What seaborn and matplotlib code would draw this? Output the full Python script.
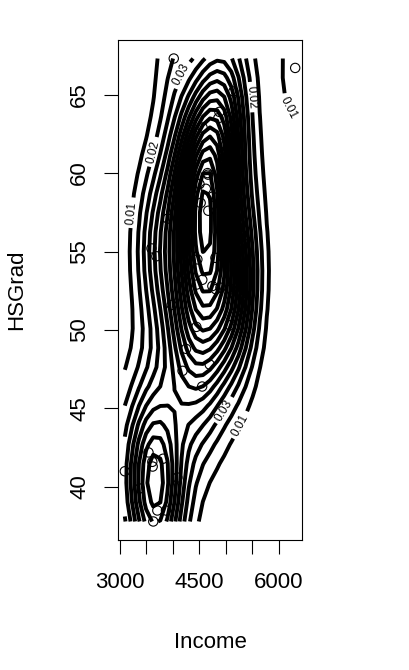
import numpy as np
import pandas as pd
import matplotlib
matplotlib.use("Agg")
import matplotlib.pyplot as plt
import seaborn as sns

# state.x77: Income and HS Grad for the 50 states
income = [3624, 6315, 4530, 3378, 5114, 4884, 5348, 4809, 4815, 4091,
          4963, 4119, 5107, 4458, 4628, 4669, 3712, 3545, 3694, 5299,
          4755, 4751, 4675, 3098, 4254, 4347, 4508, 5149, 4281, 5237,
          3601, 4903, 3875, 5087, 4561, 3983, 4660, 4449, 4558, 3635,
          4167, 3821, 4188, 4022, 3907, 4701, 4864, 3617, 4468, 4566]
hs_grad = [41.3, 66.7, 58.1, 39.9, 62.6, 63.9, 56.0, 54.6, 52.6, 40.6,
           61.9, 59.5, 52.6, 52.9, 59.0, 59.9, 38.5, 42.2, 54.7, 52.3,
           58.5, 52.8, 57.6, 41.0, 48.8, 59.2, 59.3, 65.2, 57.6, 52.5,
           55.2, 52.7, 38.5, 50.3, 53.2, 51.6, 60.0, 50.2, 46.4, 37.8,
           53.3, 41.8, 47.4, 67.3, 57.1, 47.8, 63.5, 41.6, 54.5, 62.9]

x_ticks = [3000, 3500, 4000, 4500, 5000, 5500, 6000]
x_tick_labels = ["3000", "", "", "4500", "", "", "6000"]
y_ticks = [40, 45, 50, 55, 60, 65]
label_levels = [0.01, 0.02, 0.03]

df = pd.DataFrame({"Income": income, "HSGrad": hs_grad})

sns.set_style("ticks", {"axes.edgecolor": "black", "xtick.color": "black",
                        "ytick.color": "black", "text.color": "black",
                        "axes.labelcolor": "black"})
plt.rcParams['font.family'] = ['Liberation Sans', 'DejaVu Sans']


# 2D kernel density on a 25 x 25 grid over the data range
def bandwidth_nrd(v):
    q1, q3 = np.percentile(v, [25, 75])
    return 4 * 1.06 * min(np.std(v, ddof=1), (q3 - q1) / 1.34) * len(v) ** -0.2


xv = df['Income'].values
yv = df['HSGrad'].values
gx = np.linspace(xv.min(), xv.max(), 25)
gy = np.linspace(yv.min(), yv.max(), 25)
hx = bandwidth_nrd(xv) / 4
hy = bandwidth_nrd(yv) / 4
kx = np.exp(-0.5 * ((gx[:, None] - xv[None, :]) / hx) ** 2)
ky = np.exp(-0.5 * ((gy[:, None] - yv[None, :]) / hy) ** 2)
z = (ky @ kx.T) / (2 * np.pi * len(xv) * hx * hy) * 5e3
levels = np.arange(0.01, z.max(), 0.01)

fig = plt.figure(figsize=(4.09, 6.70), dpi=100)
ax = fig.add_axes([118 / 409, 130 / 670, 184 / 409, 500 / 670])

cs = ax.contour(gx, gy, z, levels=levels, colors='black', linewidths=2.8)
ax.clabel(cs, levels=[l for l in cs.levels if round(l, 2) in label_levels],
          fmt='%.2f', fontsize=8.5, inline=True)

sns.scatterplot(data=df, x='Income', y='HSGrad', ax=ax, s=45, linewidth=0.8)
pts = ax.collections[-1]
pts.set_facecolor('none')
pts.set_edgecolor('black')

xr = xv.max() - xv.min()
yr = yv.max() - yv.min()
ax.set_xlim(xv.min() - 0.04 * xr, xv.max() + 0.04 * xr)
ax.set_ylim(yv.min() - 0.04 * yr, yv.max() + 0.04 * yr)
ax.set_xticks(x_ticks)
ax.set_xticklabels(x_tick_labels)
ax.set_yticks(y_ticks)
ax.set_yticklabels([str(t) for t in y_ticks], rotation=90, va='center')
ax.tick_params(length=10, width=0.8, labelsize=16, pad=10)
ax.tick_params(axis='x', pad=13)
for s in ax.spines.values():
    s.set_linewidth(0.8)

ax.set_xlabel('Income', fontsize=16, labelpad=28)
ax.set_ylabel('HSGrad', fontsize=16, labelpad=30)

fig.savefig('out.png', dpi=100)
